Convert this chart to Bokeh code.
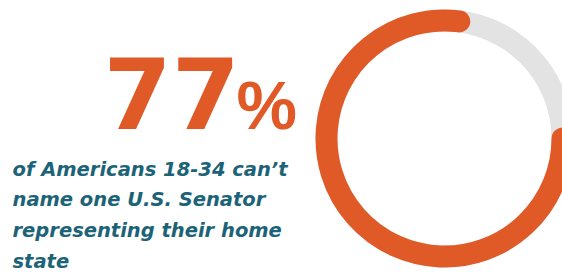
import math
from bokeh.plotting import figure
from bokeh.models import Range1d, ColumnDataSource
from bokeh.core.properties import value
from bokeh.embed import file_html
from bokeh.resources import INLINE

# ---- data ----
share_pct = [77]            # share who can't name a senator
share_rest = [23]           # remainder of the ring
stat_label = ["77"]
pct_sign = ["%"]
caption_lines = [
    "of Americans 18-34 can\u2019t",
    "name one U.S. Senator",
    "representing their home",
    "state",
]

ORANGE = "#e05a28"
GRAY = "#e3e3e3"
TEAL = "#1c6377"

W, H = 562, 272
p = figure(width=W, height=H, x_range=Range1d(0, W), y_range=Range1d(0, H),
           output_backend="svg", toolbar_location=None, min_border=0,
           x_axis_location=None, y_axis_location=None)
p.grid.visible = False
p.outline_line_color = None
p.background_fill_color = "white"
p.border_fill_color = "white"

# ring
cx, cy = 444, H - 138
r_mid, band = 118, 22
p.annulus(x=[cx], y=[cy], inner_radius=r_mid - band / 2, outer_radius=r_mid + band / 2,
          fill_color=GRAY, line_color=None)
start = 2 * math.pi * share_rest[0] / (share_pct[0] + share_rest[0])
p.arc(x=[cx], y=[cy], radius=r_mid, start_angle=start, end_angle=2 * math.pi,
      direction="anticlock", line_color=ORANGE, line_width=band, line_cap="round")

# baseline compensation (fraction of font size)
k = 0.38

# big number
big, pct = 98, 68
p.text(x=[103], y=[H - 130 + k * big], text=stat_label, text_color=ORANGE,
       text_font=value("DejaVu Sans"), text_font_style="bold",
       text_font_size=f"{big}px", text_baseline="alphabetic", text_align="left")
p.text(x=[236], y=[H - 130 + k * pct], text=pct_sign, text_color=ORANGE,
       text_font=value("Liberation Sans"), text_font_style="bold",
       text_font_size=f"{pct}px", text_baseline="alphabetic", text_align="left")

# caption
cap = 19.5
spacing = 30.7
src = ColumnDataSource(dict(
    x=[12] * len(caption_lines),
    y=[H - 176 + k * cap - i * spacing for i in range(len(caption_lines))],
    t=caption_lines,
))
p.text(x="x", y="y", text="t", source=src, text_color=TEAL,
       text_font=value("DejaVu Sans"), text_font_style="bold italic",
       text_font_size=f"{cap}px", text_baseline="alphabetic", text_align="left")

open("out.html", "w").write(file_html(p, INLINE))
